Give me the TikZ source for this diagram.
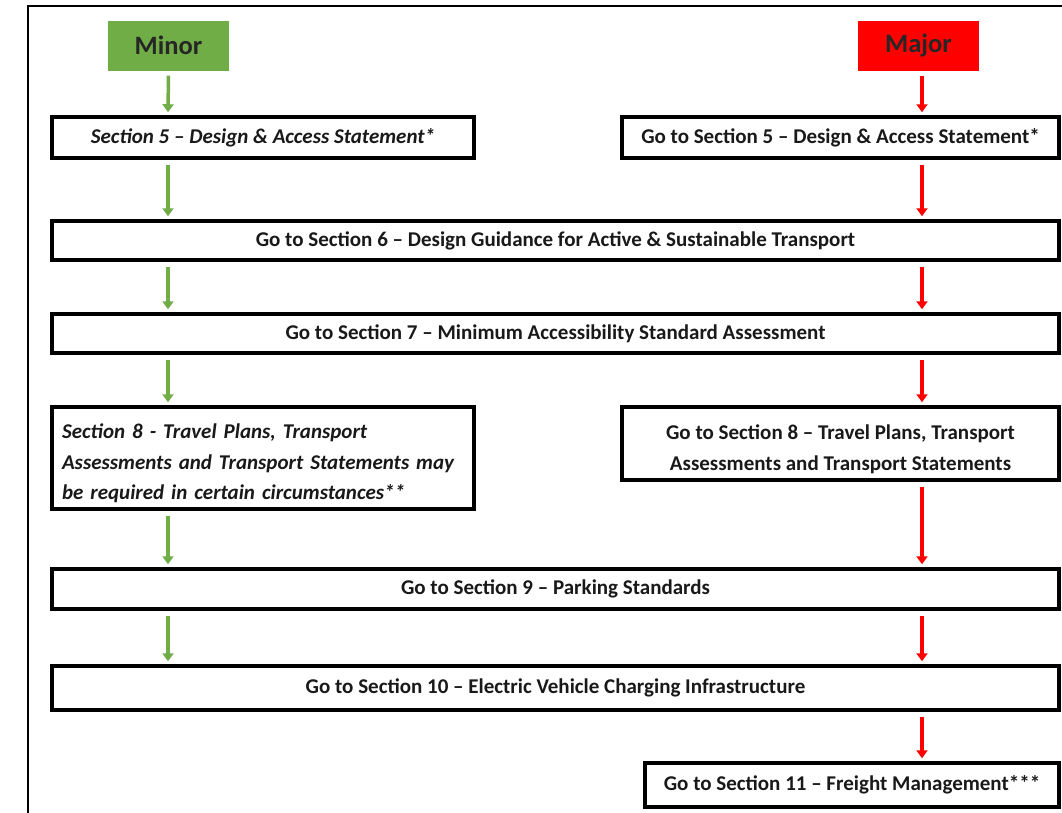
\documentclass[tikz,border=0pt]{standalone}
\usepackage{fontspec}
\setmainfont{Carlito}
\usetikzlibrary{arrows.meta}
\definecolor{minorgreen}{HTML}{70AD47}
\definecolor{majorred}{HTML}{FF0000}
\newcommand{\firstline}{\rule{0pt}{26pt}}
\tikzset{
  stepbox/.style={draw=black, line width=3.5pt, fill=white, inner sep=0pt,
    font=\fontsize{21}{31}\selectfont\bfseries, text=black!90},
  headbox/.style={inner sep=0pt, minimum width=121pt, minimum height=50pt,
    font=\fontsize{26.5}{30}\selectfont\bfseries, text=black!85},
  flow/.style={line width=3.5pt, -{Triangle[width=11pt,length=8pt]},
    shorten <=5pt, shorten >=3pt},
  greenflow/.style={flow, draw=minorgreen},
  redflow/.style={flow, draw=majorred},
}
\begin{document}
\begin{tikzpicture}[x=1pt, y=-1pt]
  \useasboundingbox (0,0) rectangle (1062,812);
  \clip (0,0) rectangle (1062,812);
  \fill[white] (0,0) rectangle (1062,812);
  % outer frame
  \draw[line width=2.5pt] (28,6) rectangle (1080,830);

  % route headings
  \node[headbox, fill=minorgreen] (minor) at (168.5,45.5) {Minor};
  \node[headbox, fill=majorred] (major) at (918.5,45.5) {Major};

  % arrow columns
  \coordinate (gx) at (168,0);
  \coordinate (rx) at (922,0);

  % steps
  \node[stepbox, minimum width=422pt, minimum height=41pt] (s5l) at (263,137.5)
    {\itshape Section 5 -- Design \& Access Statement*};
  \node[stepbox, minimum width=437pt, minimum height=41pt] (s5r) at (840.5,137.5)
    {Go to Section 5 -- Design \& Access Statement*};
  \node[stepbox, minimum width=1007pt, minimum height=39pt] (s6) at (555.5,240.5)
    {Go to Section 6 -- Design Guidance for Active \& Sustainable Transport};
  \node[stepbox, minimum width=1007pt, minimum height=39pt] (s7) at (555.5,333.5)
    {Go to Section 7 -- Minimum Accessibility Standard Assessment};
  \node[stepbox, minimum width=422pt, minimum height=102pt, align=left,
        text width=402pt, font=\fontsize{21}{30.5}\selectfont\bfseries\itshape]
        (s8l) at (263,458)
    {\firstline Section 8 - Travel Plans, Transport\\
     Assessments and Transport Statements may\\
     be required in certain circumstances**};
  \node[stepbox, minimum width=437pt, minimum height=73pt, align=center]
        (s8r) at (840.5,443.5)
    {\firstline Go to Section 8 -- Travel Plans, Transport\\
     Assessments and Transport Statements};
  \node[stepbox, minimum width=1007pt, minimum height=40pt] (s9) at (555.5,589)
    {Go to Section 9 -- Parking Standards};
  \node[stepbox, minimum width=1007pt, minimum height=44pt] (s10) at (555.5,688)
    {Go to Section 10 -- Electric Vehicle Charging Infrastructure};
  \node[stepbox, minimum width=414pt, minimum height=44pt] (s11) at (852,785)
    {Go to Section 11 -- Freight Management***};

  % minor route
  \draw[greenflow] (minor.south) -- (gx |- s5l.north);
  \draw[greenflow] (gx |- s5l.south) -- (gx |- s6.north);
  \draw[greenflow] (gx |- s6.south) -- (gx |- s7.north);
  \draw[greenflow] (gx |- s7.south) -- (gx |- s8l.north);
  \draw[greenflow] (gx |- s8l.south) -- (gx |- s9.north);
  \draw[greenflow] (gx |- s9.south) -- (gx |- s10.north);

  % major route
  \draw[redflow] (rx |- major.south) -- (rx |- s5r.north);
  \draw[redflow] (rx |- s5r.south) -- (rx |- s6.north);
  \draw[redflow] (rx |- s6.south) -- (rx |- s7.north);
  \draw[redflow] (rx |- s7.south) -- (rx |- s8r.north);
  \draw[redflow] (rx |- s8r.south) -- (rx |- s9.north);
  \draw[redflow] (rx |- s9.south) -- (rx |- s10.north);
  \draw[redflow] (rx |- s10.south) -- (rx |- s11.north);
\end{tikzpicture}
\end{document}
